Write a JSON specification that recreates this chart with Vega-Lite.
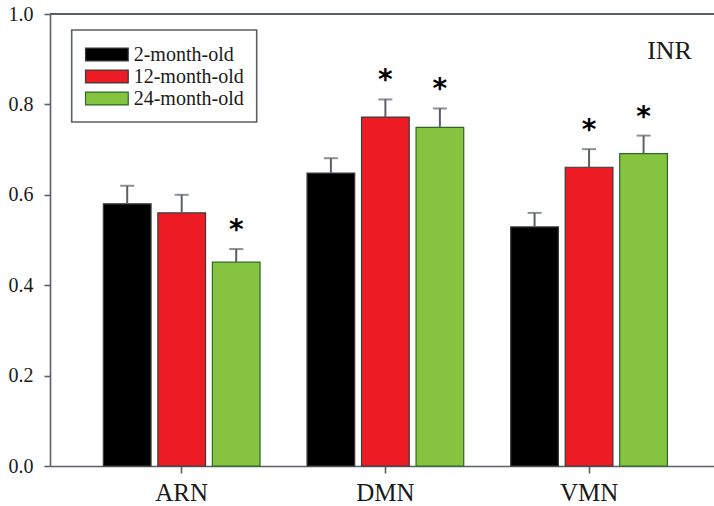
{
  "$schema": "https://vega.github.io/schema/vega-lite/v6.json",
  "width": 664,
  "height": 452,
  "autosize": "none",
  "padding": {"left": 50, "top": 14, "right": 0, "bottom": 40},
  "background": "white",
  "config": {
    "font": "Liberation Serif",
    "view": {"stroke": null},
    "axis": {"grid": false, "domainColor": "#5b6066", "domainWidth": 1.6, "tickColor": "#5b6066", "tickWidth": 1.6, "labelFont": "Liberation Serif", "labelColor": "#1a1a1a", "title": null},
    "legend": {"strokeWidth": 1.6, "labelFont": "Liberation Serif"}
  },
  "datasets": {
    "bars": [
      {"region": "ARN", "group": "2-month-old", "value": 0.58, "upper": 0.62, "sig": ""},
      {"region": "ARN", "group": "12-month-old", "value": 0.56, "upper": 0.60, "sig": ""},
      {"region": "ARN", "group": "24-month-old", "value": 0.451, "upper": 0.48, "sig": "*"},
      {"region": "DMN", "group": "2-month-old", "value": 0.648, "upper": 0.681, "sig": ""},
      {"region": "DMN", "group": "12-month-old", "value": 0.772, "upper": 0.811, "sig": "*"},
      {"region": "DMN", "group": "24-month-old", "value": 0.749, "upper": 0.791, "sig": "*"},
      {"region": "VMN", "group": "2-month-old", "value": 0.529, "upper": 0.56, "sig": ""},
      {"region": "VMN", "group": "12-month-old", "value": 0.661, "upper": 0.701, "sig": "*"},
      {"region": "VMN", "group": "24-month-old", "value": 0.691, "upper": 0.731, "sig": "*"}
    ],
    "label": [{"region": "VMN", "v": 0.9, "text": "INR"}],
    "frame": [{"v": 1}]
  },
  "data": {"name": "bars"},
  "encoding": {
    "x": {
      "field": "region", "type": "nominal", "sort": ["ARN", "DMN", "VMN"],
      "scale": {"paddingInner": 0, "paddingOuter": 0.13, "align": 0.564},
      "axis": {"labelAngle": 0, "labelFont": "Liberation Serif", "labelFontSize": 25, "tickSize": 7, "labelPadding": 7}
    },
    "y": {
      "type": "quantitative",
      "scale": {"domain": [0, 1], "nice": false, "zero": true},
      "axis": {"values": [0, 0.2, 0.4, 0.6, 0.8, 1.0], "format": ".1f", "labelFont": "Liberation Serif", "labelFontSize": 20, "tickSize": 6, "labelPadding": 11}
    }
  },
  "layer": [
    {
      "mark": {"type": "bar", "strokeWidth": 1.2},
      "encoding": {
        "xOffset": {"field": "group", "type": "nominal", "sort": ["2-month-old", "12-month-old", "24-month-old"], "scale": {"paddingInner": 0.125, "paddingOuter": 0.431}},
        "y": {"field": "value"},
        "color": {
          "field": "group", "type": "nominal",
          "scale": {"domain": ["2-month-old", "12-month-old", "24-month-old"], "range": ["#000000", "#ED1C24", "#86C440"]},
          "legend": {
            "title": null, "orient": "none", "legendX": 21.7, "legendY": 16,
            "strokeColor": "#5b6066", "padding": 13,
            "symbolType": "M-1,-0.6H3V0.6H-1Z", "symbolSize": 456, "symbolStrokeWidth": 1.2,
            "labelFont": "Liberation Serif", "labelFontSize": 20, "labelColor": "#1a1a1a", "labelOffset": 26, "rowPadding": -0.7
          }
        },
        "stroke": {
          "field": "group", "type": "nominal",
          "scale": {"domain": ["2-month-old", "12-month-old", "24-month-old"], "range": ["#3a3a3a", "#3a3a3a", "#2a6a2a"]},
          "legend": null
        }
      }
    },
    {
      "mark": {"type": "rule", "color": "#5b6066", "strokeWidth": 2},
      "encoding": {
        "xOffset": {"field": "group", "type": "nominal", "sort": ["2-month-old", "12-month-old", "24-month-old"]},
        "y": {"field": "value"},
        "y2": {"field": "upper"}
      }
    },
    {
      "mark": {"type": "tick", "color": "#5b6066", "thickness": 2, "size": 14},
      "encoding": {
        "xOffset": {"field": "group", "type": "nominal", "sort": ["2-month-old", "12-month-old", "24-month-old"]},
        "y": {"field": "upper"}
      }
    },
    {
      "transform": [{"filter": "datum.sig == '*'"}],
      "mark": {"type": "text", "font": "DejaVu Sans", "fontWeight": "bold", "fontSize": 28, "baseline": "alphabetic", "dy": -10, "color": "#000000"},
      "encoding": {
        "xOffset": {"field": "group", "type": "nominal", "sort": ["2-month-old", "12-month-old", "24-month-old"]},
        "y": {"field": "upper"},
        "text": {"field": "sig"}
      }
    },
    {
      "data": {"name": "frame"},
      "mark": {"type": "rule", "color": "#5b6066", "strokeWidth": 2},
      "encoding": {"y": {"field": "v"}, "x": null}
    },
    {
      "data": {"name": "label"},
      "mark": {"type": "text", "font": "Liberation Serif", "fontSize": 26, "align": "center", "baseline": "alphabetic", "dx": 80.5, "color": "#1a1a1a"},
      "encoding": {"y": {"field": "v"}, "text": {"field": "text"}}
    }
  ]
}
